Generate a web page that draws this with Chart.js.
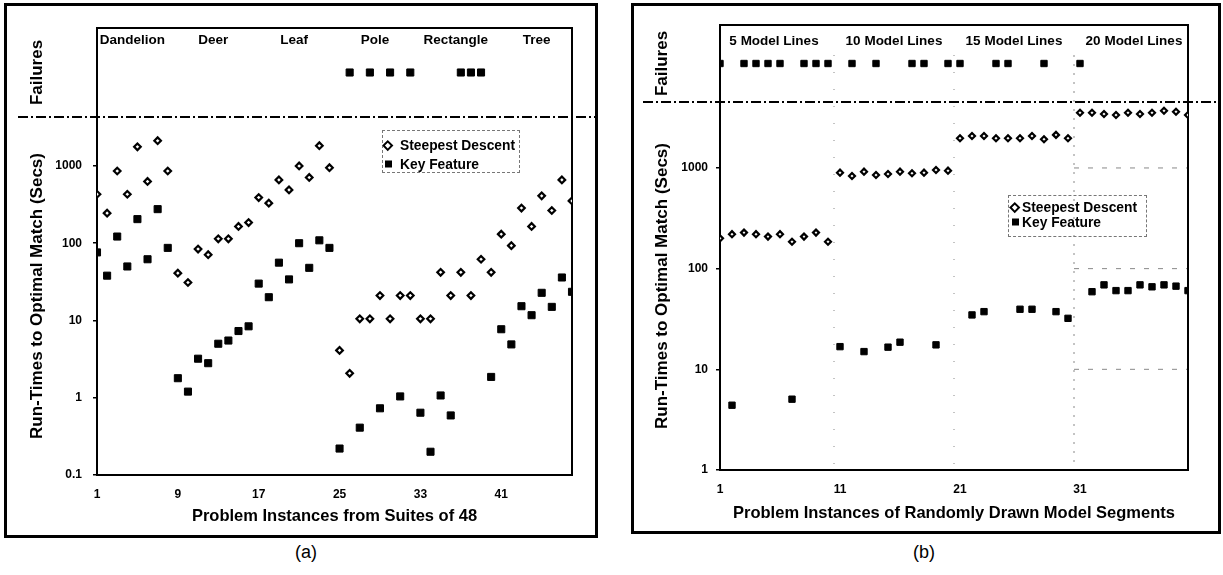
<!DOCTYPE html>
<html lang="en">
<head>
    <meta charset="UTF-8">
    <title>Run-Times to Optimal Match</title>
    <script src="https://cdn.jsdelivr.net/npm/chart.js"></script>
    <style>
        body {
            margin: 0;
            background: #fff;
            font-family: "Liberation Sans", Arial, sans-serif;
            overflow: hidden;
        }
        .page { position: relative; width: 1223px; height: 575px; }
        .frame { position: absolute; border: 3px solid #000; box-sizing: border-box; }
        .panel { position: absolute; top: 0; height: 540px; }
        .legend-box { position: absolute; border: 1px dashed #777; box-sizing: border-box; }
        .litem {
            position: absolute;
            transform: translateY(-50%);
            display: flex;
            align-items: center;
            font-weight: bold;
            font-size: 13.8px;
            color: #000;
            white-space: nowrap;
        }
        .mk { width: 8px; height: 8px; display: flex; align-items: center; justify-content: center; }
        .dia { width: 3.5px; height: 3.5px; border: 2px solid #000; background: #fff; transform: rotate(45deg); }
        .sq { width: 7px; height: 7px; background: #000; }
        .caption { position: absolute; font-size: 18px; color: #000; }
    </style>
</head>
<body>
<div class="page">
    <div class="frame" style="left:4px; top:3px; width:594px; height:535px;"></div>
    <div class="frame" style="left:631px; top:3px; width:590px; height:531px;"></div>

    <div class="panel" style="left:0; width:600px;"><canvas id="chartA"></canvas></div>
    <div class="panel" style="left:620px; width:603px;"><canvas id="chartB"></canvas></div>

    <!-- legends -->
    <div class="legend-box" style="left:382px; top:130px; width:138px; height:43px;"></div>
    <div class="litem" style="left:384px; top:145px;"><span class="mk"><span class="dia"></span></span><span style="margin-left:8px">Steepest Descent</span></div>
    <div class="litem" style="left:384px; top:164px;"><span class="mk"><span class="sq"></span></span><span style="margin-left:8px">Key Feature</span></div>

    <div class="legend-box" style="left:1008px; top:195px; width:139px; height:42px;"></div>
    <div class="litem" style="left:1011px; top:207px;"><span class="mk"><span class="dia"></span></span><span style="margin-left:3px">Steepest Descent</span></div>
    <div class="litem" style="left:1011px; top:222px;"><span class="mk"><span class="sq"></span></span><span style="margin-left:3px">Key Feature</span></div>

    <div class="caption" style="left:295px; top:542px;">(a)</div>
    <div class="caption" style="left:913px; top:542px;">(b)</div>
</div>

<script>
    // ---- panel (a): problem instances from suites of 48 ----
    const suitesA = ['Dandelion', 'Deer', 'Leaf', 'Pole', 'Rectangle', 'Tree'];
    const steepestA = [
        430, 245, 860, 430, 1770, 630, 2120, 860,      // Dandelion
        41, 31, 84, 71, 114, 114, 165, 185,            // Deer
        390, 330, 660, 490, 1000, 710, 1830, 950,      // Leaf
        4.1, 2.07, 10.5, 10.5, 21, 10.5, 21, 21,       // Pole
        10.5, 10.5, 42, 21, 42, 21, 62, 42,            // Rectangle
        131, 93, 285, 165, 410, 265, 660, 353          // Tree
    ];
    const keyFeatureA = [
        76, 38, 122, 50, 205, 62, 276, 87,
        1.79, 1.2, 3.2, 2.8, 5.0, 5.5, 7.3, 8.4,
        30, 20, 56, 34, 100, 48, 109, 87,
        0.22, null, 0.41, null, 0.73, null, 1.04, null,
        0.64, 0.20, 1.07, 0.59, null, null, null, 1.86,
        7.7, 4.9, 15.3, 11.7, 22.8, 15, 36, 23.5
    ];
    const failuresA = [26, 28, 30, 32, 37, 38, 39];
    const xTicksA = [1, 9, 17, 25, 33, 41];
    const yTicksA = [0.1, 1, 10, 100, 1000];

    // ---- panel (b): randomly drawn model segments ----
    const groupsB = ['5 Model Lines', '10 Model Lines', '15 Model Lines', '20 Model Lines'];
    const steepestB = [
        200, 220, 228, 220, 208, 220, 185, 208, 228, 185,
        898, 833, 919, 852, 871, 919, 886, 898, 955, 940,
        1970, 2080, 2080, 1970, 1970, 1970, 2080, 1930, 2130, 1970,
        3540, 3540, 3430, 3360, 3540, 3430, 3540, 3700, 3620, 3360
    ];
    const keyFeatureB = [
        null, 4.4, null, null, null, null, 5.05, null, null, null,
        16.8, null, 15, null, 16.6, 18.6, null, null, 17.5, null,
        null, 34.7, 37.4, null, null, 39.5, 39.5, null, 37.4, 32.1,
        null, 59, 69, 60.5, 60.5, 69, 66, 69, 67, 60.5
    ];
    const failuresB = [1, 3, 4, 5, 6, 8, 9, 10, 12, 14, 17, 18, 20, 21, 24, 25, 28, 31];
    const xTicksB = [1, 11, 21, 31];
    const yTicksB = [1, 10, 100, 1000];

    const FONT = '"Liberation Sans", Arial, sans-serif';

    function toPoints(values) {
        return values.map((v, i) => ({ x: i + 1, y: v })).filter(p => p.y !== null);
    }

    // box round the plot, dash-dot line under the failures band, group names, faint guides
    const panelDecor = {
        id: 'panelDecor',
        beforeDatasetsDraw(chart, args, o) {
            const { ctx, chartArea: a, scales } = chart;
            const x = scales.x, y = scales.y;
            ctx.save();

            if (o.guides) {
                ctx.strokeStyle = '#888';
                ctx.lineWidth = 1;
                const last = o.groupStart + o.groupSize * (o.groups.length - 1) - 0.5;
                for (let i = 1; i < o.groups.length; i++) {
                    const gx = x.getPixelForValue(o.groupStart + o.groupSize * i - 0.5);
                    ctx.setLineDash(i === o.groups.length - 1 ? [2, 7] : [1, 16]);
                    ctx.beginPath(); ctx.moveTo(gx, a.top + 30); ctx.lineTo(gx, a.bottom); ctx.stroke();
                }
                ctx.setLineDash([5, 9]);
                o.yTicks.slice(1).forEach(t => {
                    const py = y.getPixelForValue(t);
                    ctx.beginPath(); ctx.moveTo(x.getPixelForValue(last), py); ctx.lineTo(a.right, py); ctx.stroke();
                });
            }

            ctx.setLineDash([]);
            ctx.strokeStyle = '#000';
            ctx.lineWidth = 2;
            ctx.strokeRect(a.left, a.top, a.right - a.left, a.bottom - a.top);

            const ySep = scales.yf.bottom;
            ctx.setLineDash([10, 3, 2, 3]);
            ctx.beginPath(); ctx.moveTo(o.sepFrom, ySep); ctx.lineTo(o.sepTo, ySep); ctx.stroke();

            ctx.setLineDash([]);
            ctx.fillStyle = '#000';
            ctx.font = 'bold 13.5px ' + FONT;
            ctx.textAlign = 'center';
            ctx.textBaseline = 'middle';
            o.groups.forEach((g, i) => {
                const cx = x.getPixelForValue(o.groupStart + o.groupSize * i + (o.groupSize - 1) / 2);
                ctx.fillText(g, cx, a.top + o.labelOffset);
            });
            ctx.restore();
        }
    };

    function buildChart(id, o) {
        const bold = size => ({ family: FONT, weight: 'bold', size: size });
        return new Chart(document.getElementById(id), {
            type: 'scatter',
            data: {
                datasets: [
                    {
                        label: 'Steepest Descent',
                        data: toPoints(o.steepest),
                        yAxisID: 'y',
                        pointStyle: 'rectRot',
                        pointRadius: o.diaRadius,
                        pointBorderWidth: 2.2,
                        borderColor: '#000',
                        backgroundColor: '#fff'
                    },
                    {
                        label: 'Key Feature',
                        data: toPoints(o.keyFeature),
                        yAxisID: 'y',
                        pointStyle: 'rect',
                        pointRadius: o.sqRadius,
                        pointBorderWidth: 1,
                        borderColor: '#000',
                        backgroundColor: '#000'
                    },
                    {
                        label: 'Failures',
                        data: o.failures.map(n => ({ x: n, y: 1 })),
                        yAxisID: 'yf',
                        pointStyle: 'rect',
                        pointRadius: o.sqRadius,
                        pointBorderWidth: 1,
                        borderColor: '#000',
                        backgroundColor: '#000'
                    }
                ]
            },
            options: {
                responsive: true,
                maintainAspectRatio: false,
                animation: false,
                layout: { padding: o.padding },
                plugins: {
                    legend: { display: false },
                    tooltip: { enabled: false },
                    panelDecor: o.decor
                },
                scales: {
                    x: {
                        type: 'linear',
                        min: 1,
                        max: o.xMax,
                        afterBuildTicks: s => { s.ticks = o.xTicks.map(v => ({ value: v })); },
                        afterFit: s => { s.height = o.xHeight; },
                        grid: { display: false, drawTicks: false },
                        border: { display: false },
                        ticks: { color: '#000', font: bold(12), padding: o.xTickPad, maxRotation: 0 },
                        title: {
                            display: true, text: o.xTitle, color: '#000', font: bold(16.5),
                            padding: { top: 0, bottom: o.xTitlePad }
                        }
                    },
                    y: {
                        type: 'logarithmic',
                        position: 'left',
                        stack: 'v',
                        stackWeight: o.logWeight,
                        weight: 0,
                        min: o.yMin,
                        max: o.yMax,
                        afterBuildTicks: s => { s.ticks = o.yTicks.map(v => ({ value: v })); },
                        afterFit: s => { s.width = o.yWidth; },
                        grid: { drawOnChartArea: false, drawTicks: true, tickLength: 4, color: '#000', lineWidth: 1.5 },
                        border: { display: false },
                        ticks: { color: '#000', font: bold(12), padding: o.yTickPad, callback: v => String(v) },
                        title: {
                            display: true, text: 'Run-Times to Optimal Match (Secs)', color: '#000',
                            font: bold(17), padding: { top: o.yTitlePad, bottom: 0 }
                        }
                    },
                    yf: {
                        type: 'linear',
                        position: 'left',
                        stack: 'v',
                        stackWeight: o.failWeight,
                        weight: 1,
                        min: 0,
                        max: 2,
                        afterFit: s => { s.width = o.yWidth; },
                        grid: { display: false },
                        border: { display: false },
                        ticks: { display: false },
                        title: {
                            display: true, text: 'Failures', color: '#000',
                            font: bold(17), padding: { top: o.yTitlePad, bottom: 0 }
                        }
                    }
                }
            },
            plugins: [panelDecor]
        });
    }

    buildChart('chartA', {
        steepest: steepestA, keyFeature: keyFeatureA, failures: failuresA,
        xTicks: xTicksA, yTicks: yTicksA, xMax: 48, yMin: 0.1, yMax: 4300,
        padding: { left: 0, top: 28, right: 28, bottom: 0 },
        yWidth: 97, xHeight: 65, logWeight: 358, failWeight: 89,
        xTickPad: 12, yTickPad: 11, yTitlePad: 27,
        xTitle: 'Problem Instances from Suites of 48', xTitlePad: 14,
        diaRadius: 3.3, sqRadius: 5,
        decor: {
            groups: suitesA, groupStart: 1, groupSize: 8, labelOffset: 12,
            sepFrom: 18, sepTo: 597, guides: false, yTicks: yTicksA
        }
    });

    buildChart('chartB', {
        steepest: steepestB, keyFeature: keyFeatureB, failures: failuresB,
        xTicks: xTicksB, yTicks: yTicksB, xMax: 40, yMin: 1, yMax: 4520,
        padding: { left: 0, top: 25, right: 35, bottom: 0 },
        yWidth: 100, xHeight: 70, logWeight: 368, failWeight: 77,
        xTickPad: 12, yTickPad: 8, yTitlePad: 32,
        xTitle: 'Problem Instances of Randomly Drawn Model Segments', xTitlePad: 17,
        diaRadius: 3, sqRadius: 4.5,
        decor: {
            groups: groupsB, groupStart: 1, groupSize: 10, labelOffset: 16,
            sepFrom: 23, sepTo: 598, guides: true, yTicks: yTicksB
        }
    });
</script>
</body>
</html>
